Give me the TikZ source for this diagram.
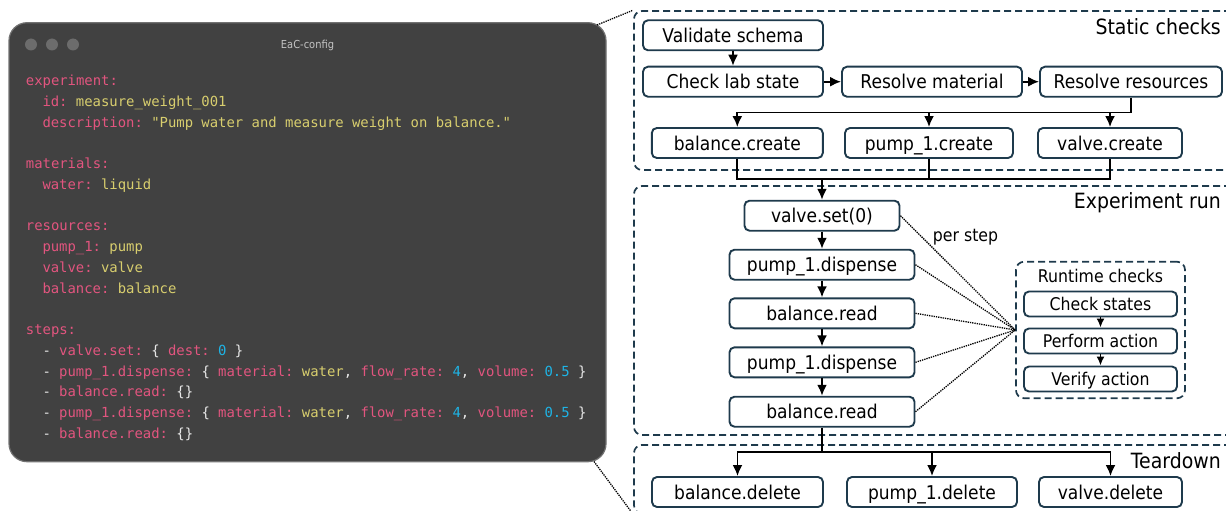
\documentclass[tikz,border=0pt]{standalone}
\usepackage{fontspec}
\setmainfont{DejaVu Sans}[FakeStretch=0.9]
\setmonofont{DejaVu Sans Mono}
\usetikzlibrary{arrows.meta}
\usetikzlibrary{positioning}

\definecolor{codebg}{HTML}{414141}
\definecolor{codeframe}{HTML}{727272}
\definecolor{codedot}{HTML}{6C6C6C}
\definecolor{codetitle}{HTML}{C4C4C4}
\definecolor{codekey}{HTML}{E2557F}
\definecolor{codestr}{HTML}{D8CE6E}
\definecolor{codenum}{HTML}{1EB4E6}
\definecolor{codepun}{HTML}{E8E8E8}
\definecolor{navy}{HTML}{1E3A4C}

\newcommand{\ckey}[1]{\textcolor{codekey}{#1}}
\newcommand{\cstr}[1]{\textcolor{codestr}{#1}}
\newcommand{\cnum}[1]{\textcolor{codenum}{#1}}
\newcommand{\cpun}[1]{\textcolor{codepun}{#1}}

\begin{document}
\begin{tikzpicture}[x=1pt,y=-1pt,
                win/.style={draw=codeframe,fill=codebg,line width=1.2pt,
                    rounded corners=18pt,inner sep=0pt},
                code/.style={anchor=base west,inner sep=0pt,
                    font=\ttfamily\fontsize{13.9}{16}\selectfont},
                blk/.style={draw=navy,line width=1.9pt,rounded corners=5pt,
                    minimum height=30pt,inner sep=0pt,
                    text height=15.5pt,text depth=1.5pt,
                    font=\fontsize{19}{20}\selectfont},
                sblk/.style={blk,minimum height=25pt,
                    text height=14pt,text depth=1pt,
                    font=\fontsize{17.5}{18}\selectfont},
                dgrp/.style={draw=navy,line width=1.7pt,
                    dash pattern=on 7pt off 4pt,rounded corners=8pt,inner sep=0pt},
                lbl/.style={anchor=east,inner sep=0pt,
                    font=\fontsize{21}{22}\selectfont},
                line/.style={line width=1.9pt},
                arr/.style={line,-{Latex[length=11pt,width=10pt]}},
                sarr/.style={line,-{Latex[length=9pt,width=8pt]}},
                dots/.style={line width=1.3pt,densely dotted}]
                \useasboundingbox (0,0) rectangle (1226,511);

                % config window
                \node[win,minimum width=597pt,minimum height=439pt] (win) at (307.5,242.2) {};
                \foreach \i/\x in {1/31,2/52,3/73}
                    \fill[codedot] (\x,44.5) circle (6pt) node (dot\i) {};
                \node[text=codetitle,font=\fontsize{11}{12}\selectfont] (title) at (307.5,45) {EaC-config};

                \node[code] (c1) at (25.7,85.5) {\ckey{experiment:}};
                \node[code] (c2) at (42.3,106.2) {\ckey{id:} \cstr{measure\_weight\_001}};
                \node[code] (c3) at (42.3,127) {\ckey{description:} \cstr{"Pump water and measure weight on balance."}};
                \node[code] (c4) at (25.7,168.5) {\ckey{materials:}};
                \node[code] (c5) at (42.3,189.2) {\ckey{water:} \cstr{liquid}};
                \node[code] (c6) at (25.7,230.7) {\ckey{resources:}};
                \node[code] (c7) at (42.3,251.5) {\ckey{pump\_1:} \cstr{pump}};
                \node[code] (c8) at (42.3,272.2) {\ckey{valve:} \cstr{valve}};
                \node[code] (c9) at (42.3,293) {\ckey{balance:} \cstr{balance}};
                \node[code] (c10) at (25.7,334.5) {\ckey{steps:}};
                \node[code] (c11) at (42.3,355.2) {\cpun{-} \ckey{valve.set:} \cpun{\{} \ckey{dest:} \cnum{0} \cpun{\}}};
                \node[code] (c12) at (42.3,376) {\cpun{-} \ckey{pump\_1.dispense:} \cpun{\{} \ckey{material:} \cstr{water}\cpun{,} \ckey{flow\_rate:} \cnum{4}\cpun{,} \ckey{volume:} \cnum{0.5} \cpun{\}}};
                \node[code] (c13) at (42.3,396.7) {\cpun{-} \ckey{balance.read:} \cpun{\{\}}};
                \node[code] (c14) at (42.3,417.5) {\cpun{-} \ckey{pump\_1.dispense:} \cpun{\{} \ckey{material:} \cstr{water}\cpun{,} \ckey{flow\_rate:} \cnum{4}\cpun{,} \ckey{volume:} \cnum{0.5} \cpun{\}}};
                \node[code] (c15) at (42.3,438.2) {\cpun{-} \ckey{balance.read:} \cpun{\{\}}};

                % groups
                \node[dgrp,minimum width=616pt,minimum height=159pt] (stat) at (942,90.5) {};
                \node[dgrp,minimum width=616pt,minimum height=249pt] (exp) at (942,310.5) {};
                \node[dgrp,minimum width=616pt,minimum height=68.5pt] (tear) at (942,479.2) {};
                \node[lbl] (lstat) at (1221,27) {Static checks};
                \node[lbl] (lexp) at (1221,203) {Experiment run};
                \node[lbl] (ltear) at (1221,461) {Teardown};

                \coordinate (wtop) at (597,25);
                \coordinate (wbot) at (594,461.5);
                \draw[dots] (wtop) -- (stat.north west);
                \draw[dots] (wbot) -- (tear.south west);

                % static checks
                \node[blk,minimum width=180pt] (val) at (733,35.3) {Validate schema};
                \node[blk,minimum width=180pt] (chk) at (733,81.7) {Check lab state};
                \node[blk,minimum width=180pt] (resm) at (932,81.7) {Resolve material};
                \node[blk,minimum width=182pt] (resr) at (1131,81.7) {Resolve resources};
                \node[blk,minimum width=171pt] (bc) at (737.3,143) {balance.create};
                \node[blk,minimum width=168pt] (pc) at (929,143) {pump\_1.create};
                \node[blk,minimum width=144pt] (vc) at (1110,143) {valve.create};

                \draw[arr] (val) -- (chk);
                \draw[arr] (chk) -- (resm);
                \draw[arr] (resm) -- (resr);
                \coordinate (fork1) at (1131,112.5);
                \draw[line] (resr.south) -- (fork1);
                \foreach \n in {bc,pc,vc}
                    \draw[arr] (fork1) -| (\n.north);

                % experiment run
                \node[blk,minimum width=155pt] (vs) at (822,215.7) {valve.set(0)};
                \node[blk,minimum width=185pt] (d1) at (822,264.7) {pump\_1.dispense};
                \node[blk,minimum width=185pt] (r1) at (822,313.3) {balance.read};
                \node[blk,minimum width=185pt] (d2) at (822,362.3) {pump\_1.dispense};
                \node[blk,minimum width=185pt] (r2) at (822,411.7) {balance.read};

                \coordinate (join1) at (822,179);
                \foreach \n in {bc,pc,vc}
                    \draw[line] (\n.south) |- (join1);
                \draw[arr] (join1) -- (vs);
                \draw[arr] (vs) -- (d1);
                \draw[arr] (d1) -- (r1);
                \draw[arr] (r1) -- (d2);
                \draw[arr] (d2) -- (r2);

                \node[dgrp,minimum width=169pt,minimum height=136.5pt] (rt) at (1100.5,330) {};
                \node[font=\fontsize{17.5}{18}\selectfont,inner sep=0pt] (lrt) at (1100.5,276) {Runtime checks};
                \node[sblk,minimum width=153pt] (cs) at (1100.5,304) {Check states};
                \node[sblk,minimum width=153pt] (pa) at (1100.5,341) {Perform action};
                \node[sblk,minimum width=153pt] (va) at (1100.5,379) {Verify action};
                \draw[sarr] (cs) -- (pa);
                \draw[sarr] (pa) -- (va);

                \foreach \n in {vs,d1,r1,d2,r2}
                    \draw[dots] (\n.east) -- (rt.west);
                \node[font=\fontsize{17.5}{18}\selectfont,inner sep=0pt] (ps) at (965.5,237) {per step};

                % teardown
                \node[blk,minimum width=171pt] (bd) at (737.5,492) {balance.delete};
                \node[blk,minimum width=170pt] (pd) at (932,492) {pump\_1.delete};
                \node[blk,minimum width=143pt] (vd) at (1110.5,492) {valve.delete};

                \coordinate (fork2) at (822,451.7);
                \draw[line] (r2.south) -- (fork2);
                \foreach \n in {bd,pd,vd}
                    \draw[arr] (fork2) -| (\n.north);
            \end{tikzpicture}
\end{document}
